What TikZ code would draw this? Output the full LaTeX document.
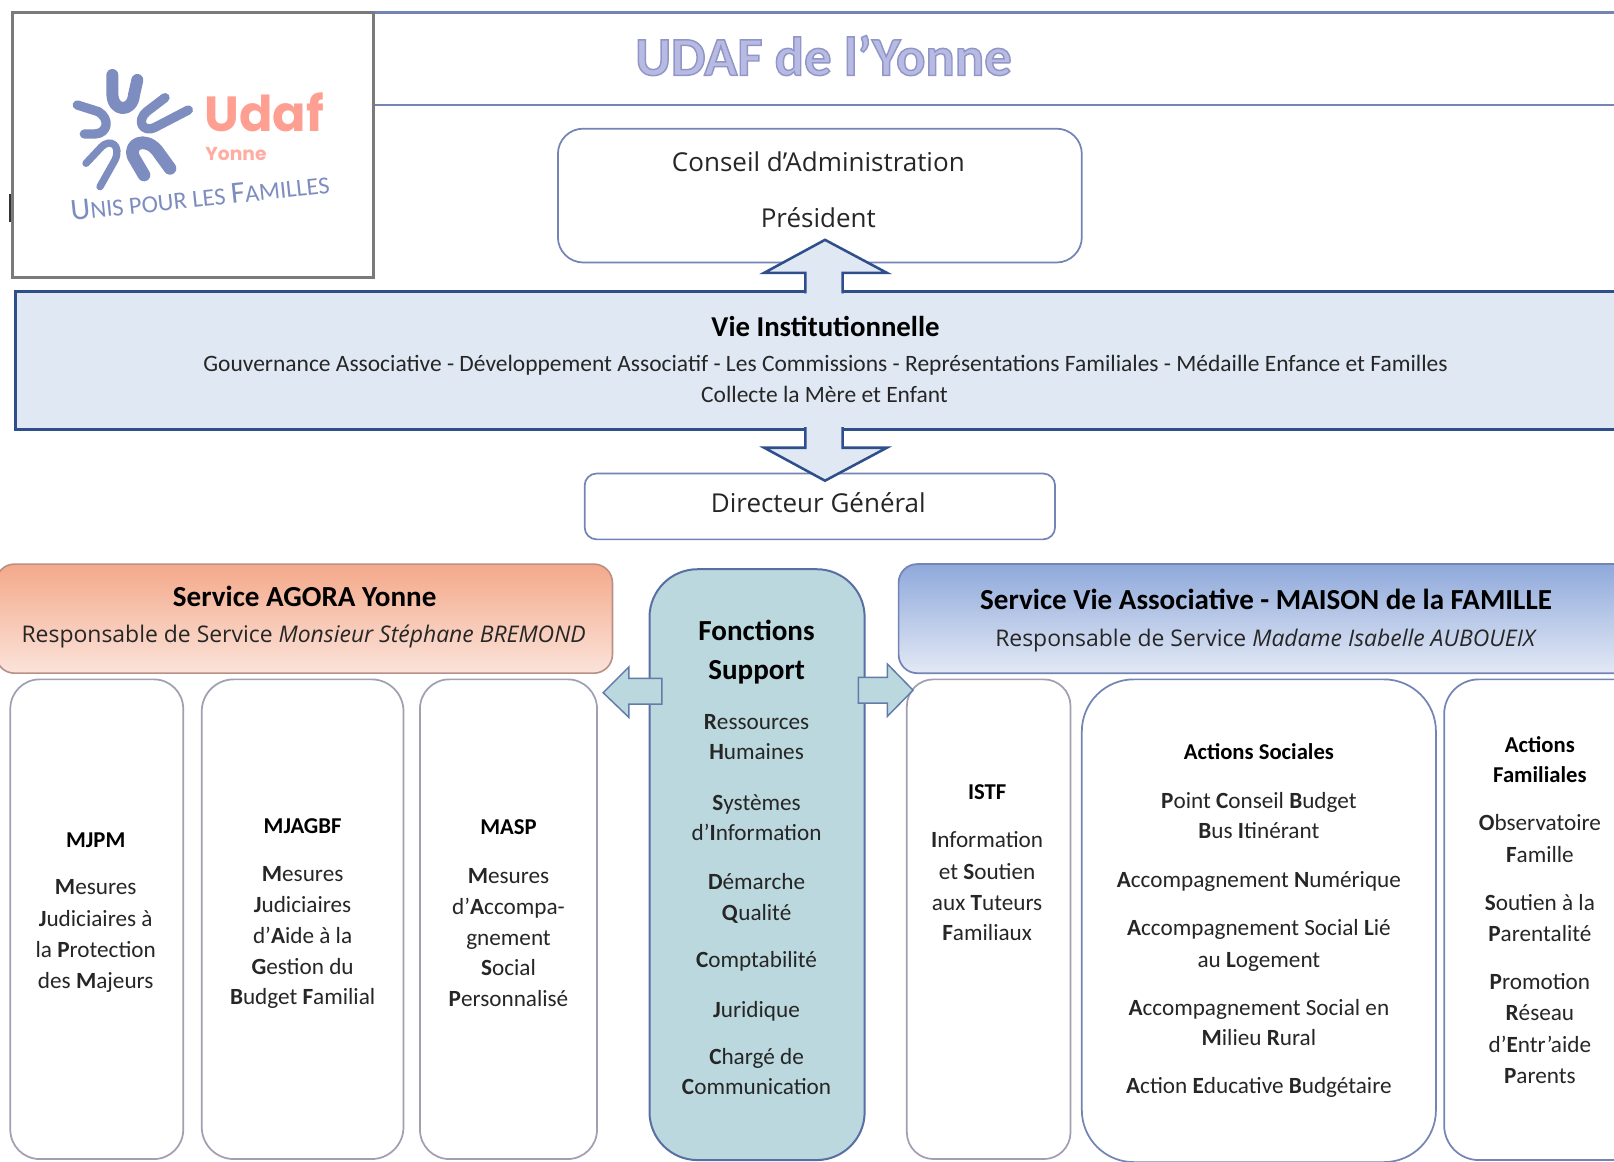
\documentclass[tikz,border=0pt]{standalone}
\usepackage{fontspec}
\setmainfont{Carlito}
\newfontfamily\osans{Open Sans}
\newfontfamily\pop{Poppins}
\usetikzlibrary{calc}
\definecolor{navy}{HTML}{2F4F8C}
\definecolor{lineblue}{HTML}{7484B4}
\definecolor{palefill}{HTML}{E0E8F3}
\definecolor{tealfill}{HTML}{BAD8DD}
\definecolor{logoblue}{HTML}{7E8DBF}
\definecolor{coral}{HTML}{FF9F92}
\definecolor{greyedge}{HTML}{A29FB2}
\definecolor{inkc}{HTML}{262626}
\definecolor{agoratop}{HTML}{F4A98A}
\definecolor{agorabot}{HTML}{FBE3DA}
\definecolor{agoraedge}{HTML}{B89088}
\definecolor{vatop}{HTML}{8FA9DB}
\definecolor{vabot}{HTML}{E3E9F5}
\definecolor{titlefill}{HTML}{B7BAE2}
\tikzset{
  rbox/.style={draw=#1,line width=1.3pt,fill=white},
  rbox/.default=lineblue,
  barrow/.style={draw=navy,line width=1.9pt,fill=#1,line join=miter},
  tx/.style={font=\fontsize{17.4}{17}\selectfont,text=inkc,inner sep=0pt,anchor=base,yshift=-5.5pt},
  txb/.style={font=\fontsize{17}{17}\selectfont\bfseries,text=black,inner sep=0pt,anchor=base,yshift=-5.5pt},
  head/.style={font=\fontsize{21.8}{20}\selectfont\bfseries,text=black,inner sep=0pt,anchor=base,yshift=-7pt},
  osa/.style={font=\fontsize{19.5}{18}\selectfont\osans,text=inkc,inner sep=0pt,anchor=base,yshift=-7pt},
  osb/.style={font=\fontsize{17.2}{18}\selectfont\osans,text=inkc,inner sep=0pt,anchor=base,yshift=-6pt},
  logostroke/.style={draw=logoblue,line cap=round,line join=round},
  ttl/.style={font=\fontsize{41}{41}\selectfont\bfseries,inner sep=0pt},
}
\newcommand\bx[6]{\pgfmathsetmacro\bw{(#5-#3)*0.77197}\pgfmathsetmacro\bh{(#6-#4)*0.77197}%
  \node[#2,minimum width=\bw pt,minimum height=\bh pt,inner sep=0pt,outer sep=0pt] (#1) at ({(#3+#5)/2},{(#4+#6)/2}) {};}
\newcommand\tl[5][tx]{\node[#1] (#2) at (#3,#4) {#5};}
\newcommand\bb[1]{\textbf{#1}}
\begin{document}
\begin{tikzpicture}[x=0.77197pt,y=-0.77197pt]
\clip (0,0) rectangle (1568,1128);
\fill[white] (0,0) rectangle (1568,1128);
% header
\coordinate (headTop) at (364,12);
\coordinate (headBot) at (364,102);
\draw[lineblue,line width=2pt] (headTop) -- (1568,12);
\draw[lineblue,line width=2pt] (headBot) -- (1568,102);
\bx{logobox}{draw=black!52,line width=2.2pt,fill=white}{12}{12}{363}{270}
\draw[black!80,line width=1.6pt] (10,188) -- (10,216);
% logo
\begin{scope}[x=0.25pt,y=-0.25pt]
\draw[logostroke,line width=9pt] (337,225) -- (337,280) .. controls (337,338) and (397,338) .. (402,285) -- (412,240);
\draw[logostroke,line width=7pt] (495,293) -- (440,335) .. controls (410,360) and (425,400) .. (465,382) -- (565,330);
\draw[logostroke,line width=9.5pt] (510,505) -- (470,450) .. controls (435,410) and (385,430) .. (400,470) -- (432,525);
\draw[logostroke,line width=5.5pt] (300,560) -- (345,480) .. controls (365,435) and (330,415) .. (305,440) -- (258,490);
\draw[logostroke,line width=7pt] (232,315) -- (295,335) .. controls (330,355) and (325,400) .. (285,402) -- (253,402);
\node[font=\pop\bfseries\fontsize{37}{37}\selectfont,text=coral,inner sep=0pt,anchor=base,text height=27pt,text depth=0pt] (udaf) at (793,395) {Udaf};
\node[font=\pop\bfseries\fontsize{14}{14}\selectfont,text=coral!85,inner sep=0pt,anchor=base,text height=10pt,text depth=0pt] (yonne) at (708,482) {Yonne};
\node[font=\fontsize{23}{23}\selectfont,text=logoblue,rotate=6,inner sep=0pt] (slogan) at (600,592) {U\fontsize{18.4}{18}\selectfont NIS POUR LES \fontsize{23}{23}\selectfont F\fontsize{18.4}{18}\selectfont AMILLES};
\end{scope}
% title
\node[ttl,text=titlefill] (title) at (800,54) {\special{pdf:code 2 Tr 1.1 w 0.57 0.59 0.78 RG}UDAF de l’Yonne\special{pdf:code 0 Tr 1 w}};
% top boxes
\bx{ca}{rbox,rounded corners=19pt}{542}{125}{1051}{255}
\tl[osa]{ca1}{795}{158}{Conseil d’Administration}
\tl[osa]{ca2}{795}{212}{Président}
\bx{dg}{rbox,rounded corners=9pt}{568}{460}{1025}{524}
\tl[osa]{dg1}{795}{489}{Directeur Général}
\bx{vie}{draw=navy,line width=2.4pt,fill=palefill}{15}{283}{1640}{417}
\draw[barrow=palefill] ($(vie.north)+(-45,2)$) -- ++(0,-20) -- ++(-40,0) -- ($(ca.south)+(5,-22)$) -- ++(60,32) -- ++(-43,0) -- ++(0,20);
\draw[barrow=palefill] ($(vie.south)+(-45,-2)$) -- ++(0,20) -- ++(-40,0) -- ($(dg.north)+(5,7)$) -- ++(60,-32) -- ++(-43,0) -- ++(0,-20);
\tl[txb,font=\fontsize{21.6}{20}\selectfont\bfseries,yshift=-1.5pt]{viet}{802}{318}{Vie Institutionnelle}
\tl[tx,font=\fontsize{17.6}{17}\selectfont]{vie1}{802}{354}{Gouvernance Associative - Développement Associatif - Les Commissions - Représentations Familiales - Médaille Enfance et Familles}
\tl[tx,font=\fontsize{17.6}{17}\selectfont]{vie2}{801}{384}{Collecte la Mère et Enfant}
% services
\bx{agora}{draw=agoraedge,line width=1.2pt,rounded corners=14pt,top color=agoratop,bottom color=agorabot}{-4}{548}{595}{654}
\tl[head]{agt}{296}{580}{Service AGORA Yonne}
\tl[osb]{ag1}{295}{616}{Responsable de Service \textit{Monsieur Stéphane BREMOND}}
\bx{vieasso}{draw=lineblue,line width=1.3pt,rounded corners=14pt,top color=vatop,bottom color=vabot}{873}{548}{1640}{654}
\tl[head]{vat}{1230}{583}{Service Vie Associative - MAISON de la FAMILLE}
\tl[osb]{va1}{1230}{620}{Responsable de Service \textit{Madame Isabelle AUBOUEIX}}
% lower boxes
\bx{mjpm}{rbox=greyedge,rounded corners=22pt}{10}{660}{178}{1126}
\bx{mjagbf}{rbox=greyedge,rounded corners=24pt}{196}{660}{392}{1126}
\bx{masp}{rbox=greyedge,rounded corners=22pt}{408}{660}{580}{1126}
\bx{istf}{rbox=greyedge,rounded corners=20pt}{881}{660}{1040}{1126}
\bx{asoc}{rbox,rounded corners=39pt}{1051}{660}{1395}{1129}
\bx{afam}{rbox,rounded corners=26pt}{1403}{660}{1640}{1127}
\bx{fonc}{draw=lineblue!60!navy,line width=1.5pt,fill=tealfill,rounded corners=36pt}{631}{553}{840}{1127}
\draw[barrow=tealfill,line width=1.1pt,draw=navy!75] (643,659) -- ++(-32,0) -- ++(0,-11) -- ++(-25,25) -- ++(25,24) -- ++(0,-13) -- ++(32,0) -- cycle;
\draw[barrow=tealfill,line width=1.1pt,draw=navy!75] (834,658) -- ++(28,0) -- ++(0,-13) -- ++(25,25.5) -- ++(-25,25.5) -- ++(0,-13) -- ++(-28,0) -- cycle;
% MJPM
\tl[txb]{t1}{93}{816}{MJPM}
\tl{t1a}{93}{862}{\bb{M}esures}
\tl{t1b}{93}{893}{\bb{J}udiciaires à}
\tl{t1c}{93}{923}{la \bb{P}rotection}
\tl{t1d}{93}{953}{des \bb{M}ajeurs}
% MJAGBF
\tl[txb]{t2}{294}{803}{MJAGBF}
\tl{t2a}{294}{849}{\bb{M}esures}
\tl{t2b}{294}{879}{\bb{J}udiciaires}
\tl{t2c}{294}{909}{d’\bb{A}ide à la}
\tl{t2d}{294}{940}{\bb{G}estion du}
\tl{t2e}{294}{969}{\bb{B}udget \bb{F}amilial}
% MASP
\tl[txb]{t3}{494}{804}{MASP}
\tl{t3a}{494}{851}{\bb{M}esures}
\tl{t3b}{494}{881}{d’\bb{A}ccompa-}
\tl{t3c}{494}{911}{gnement}
\tl{t3d}{494}{941}{\bb{S}ocial}
\tl{t3e}{494}{971}{\bb{P}ersonnalisé}
% Fonctions
\tl[head]{f1}{735}{613}{Fonctions}
\tl[head]{f2}{735}{651}{Support}
\tl{f3}{735}{702}{\bb{R}essources}
\tl{f4}{735}{731}{\bb{H}umaines}
\tl{f5}{735}{780}{\bb{S}ystèmes}
\tl{f6}{735}{809}{d’\bb{I}nformation}
\tl{f7}{735}{857}{\bb{D}émarche}
\tl{f8}{735}{887}{\bb{Q}ualité}
\tl{f9}{735}{933}{\bb{C}omptabilité}
\tl{f10}{735}{981}{\bb{J}uridique}
\tl{f11}{735}{1027}{\bb{C}hargé de}
\tl{f12}{735}{1056}{\bb{C}ommunication}
% ISTF
\tl[txb]{t4}{959}{770}{ISTF}
\tl{t4a}{959}{816}{\bb{I}nformation}
\tl{t4b}{959}{847}{et \bb{S}outien}
\tl{t4c}{959}{877}{aux \bb{T}uteurs}
\tl{t4d}{959}{907}{\bb{F}amiliaux}
% Actions sociales
\tl[txb]{t5}{1223}{731}{Actions Sociales}
\tl{t5a}{1223}{778}{\bb{P}oint \bb{C}onseil \bb{B}udget}
\tl{t5b}{1223}{807}{\bb{B}us \bb{I}tinérant}
\tl{t5c}{1223}{855}{\bb{A}ccompagnement \bb{N}umérique}
\tl{t5d}{1223}{902}{\bb{A}ccompagnement Social \bb{L}ié}
\tl{t5e}{1223}{933}{au \bb{L}ogement}
\tl{t5f}{1223}{979}{\bb{A}ccompagnement Social en}
\tl{t5g}{1223}{1009}{\bb{M}ilieu \bb{R}ural}
\tl{t5h}{1223}{1055}{\bb{A}ction \bb{E}ducative \bb{B}udgétaire}
% Actions familiales
\tl[txb]{t6}{1496}{724}{Actions}
\tl[txb]{t6b}{1496}{753}{Familiales}
\tl{t6c}{1496}{800}{\bb{O}bservatoire}
\tl{t6d}{1496}{831}{\bb{F}amille}
\tl{t6e}{1496}{877}{\bb{S}outien à la}
\tl{t6f}{1496}{908}{\bb{P}arentalité}
\tl{t6g}{1496}{954}{\bb{P}romotion}
\tl{t6h}{1496}{984}{\bb{R}éseau}
\tl{t6i}{1496}{1015}{d’\bb{E}ntr’aide}
\tl{t6j}{1496}{1045}{\bb{P}arents}
\end{tikzpicture}
\end{document}
